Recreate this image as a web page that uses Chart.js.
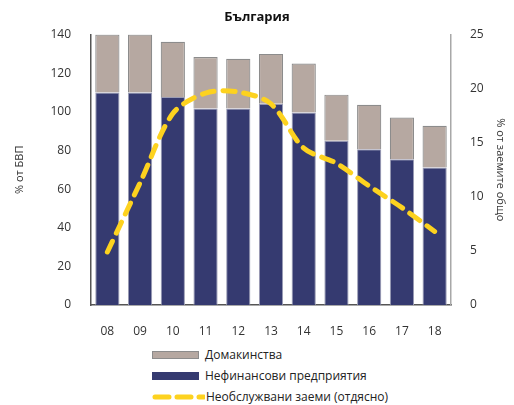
<!DOCTYPE html>
<html>
<head>
<meta charset="utf-8">
<script src="https://cdn.jsdelivr.net/npm/chart.js@4"></script>
<style>
  body { margin: 0; background: #fff; font-family: "Open Sans", "Noto Sans", sans-serif; }
  #wrap { position: relative; width: 514px; height: 405px; }
  #legend { position: absolute; left: 152px; top: 344px; margin: 0; padding: 0; list-style: none; }
  #legend li { display: flex; align-items: center; height: 21px; font-size: 12px; color: #222; }
  #legend .box { width: 47px; height: 8px; margin-right: 6px; box-sizing: border-box; }
</style>
</head>
<body>
<div id="wrap">
  <canvas id="c" width="514" height="340"></canvas>
  <ul id="legend"></ul>
</div>
<script>
// година
const years = ['08', '09', '10', '11', '12', '13', '14', '15', '16', '17', '18'];
// % от БВП
const firms = [110, 110, 107.7, 101.8, 101.8, 104.2, 99.7, 85, 80.7, 75.5, 71.2];
const households = [30, 30, 28.6, 26.6, 25.7, 25.8, 25.3, 23.9, 23, 21.6, 21.6];
// % от заемите общо
const npl = [4.9, 11.3, 17.7, 19.6, 19.7, 18.6, 14.5, 13.1, 11.0, 9.0, 6.8];

const seriesNames = ['Домакинства', 'Нефинансови предприятия', 'Необслужвани заеми (отдясно)'];
const colors = { households: '#b6a8a1', firms: '#353a70', npl: '#fdd21f' };
const fontFam = '"Open Sans", "Noto Sans", sans-serif';
const textColor = '#333';

// легенда
const legend = document.getElementById('legend');
[
  `<span class="box" style="background:${colors.households};border:1px solid #8c8c8c"></span>`,
  `<span class="box" style="background:${colors.firms}"></span>`,
  `<svg width="53" height="8" style="margin-right:1px"><line x1="3" y1="4" x2="52" y2="4" stroke="${colors.npl}" stroke-width="5" stroke-linecap="round" stroke-dasharray="14 8"/></svg>`
].forEach((sym, i) => {
  const li = document.createElement('li');
  li.innerHTML = sym + '<span>' + seriesNames[i] + '</span>';
  legend.appendChild(li);
});

new Chart(document.getElementById('c'), {
  type: 'bar',
  data: {
    labels: years,
    datasets: [
      {
        label: seriesNames[1],
        data: firms,
        backgroundColor: colors.firms,
        borderColor: '#9a9cb4',
        borderWidth: 1,
        categoryPercentage: 1,
        barPercentage: 0.74,
        yAxisID: 'y',
        order: 2
      },
      {
        label: seriesNames[0],
        data: households,
        backgroundColor: colors.households,
        borderColor: '#8c8c8c',
        borderWidth: 1.2,
        categoryPercentage: 1,
        barPercentage: 0.74,
        yAxisID: 'y',
        order: 2
      },
      {
        type: 'line',
        label: seriesNames[2],
        data: npl,
        borderColor: colors.npl,
        borderWidth: 5,
        borderDash: [12, 9],
        borderCapStyle: 'round',
        tension: 0.3,
        pointRadius: 0,
        yAxisID: 'y1',
        order: 0
      }
    ]
  },
  options: {
    responsive: false,
    animation: false,
    layout: { padding: 0 },
    plugins: {
      legend: { display: false },
      tooltip: { enabled: false },
      title: {
        display: true,
        text: 'България',
        color: '#111',
        font: { family: fontFam, size: 13, weight: 'bold' },
        padding: { top: 9, bottom: 10 }
      }
    },
    scales: {
      x: {
        stacked: true,
        grid: { display: false },
        border: { display: true, color: '#555', width: 1.5 },
        ticks: { color: textColor, font: { family: fontFam, size: 12 }, padding: 11 },
        afterFit(s) { s.height = 35; }
      },
      y: {
        stacked: true,
        position: 'left',
        min: 0, max: 140,
        grid: { display: false },
        border: { display: true, color: '#555', width: 1.5 },
        ticks: { stepSize: 20, color: textColor, font: { family: fontFam, size: 12 }, padding: 12 },
        title: { display: true, text: '% от БВП', color: textColor, font: { family: fontFam, size: 11 }, padding: { top: 13 } },
        afterFit(s) { s.width = 91; }
      },
      y1: {
        position: 'right',
        min: 0, max: 25,
        grid: { display: false },
        border: { display: true, color: '#a8a8a8', width: 1.5 },
        ticks: { stepSize: 5, color: textColor, font: { family: fontFam, size: 12 }, padding: 11 },
        title: { display: true, text: '% от заемите общо', color: textColor, font: { family: fontFam, size: 11 }, padding: { top: 7 } },
        afterFit(s) { s.width = 63; }
      }
    }
  }
});
</script>
</body>
</html>
